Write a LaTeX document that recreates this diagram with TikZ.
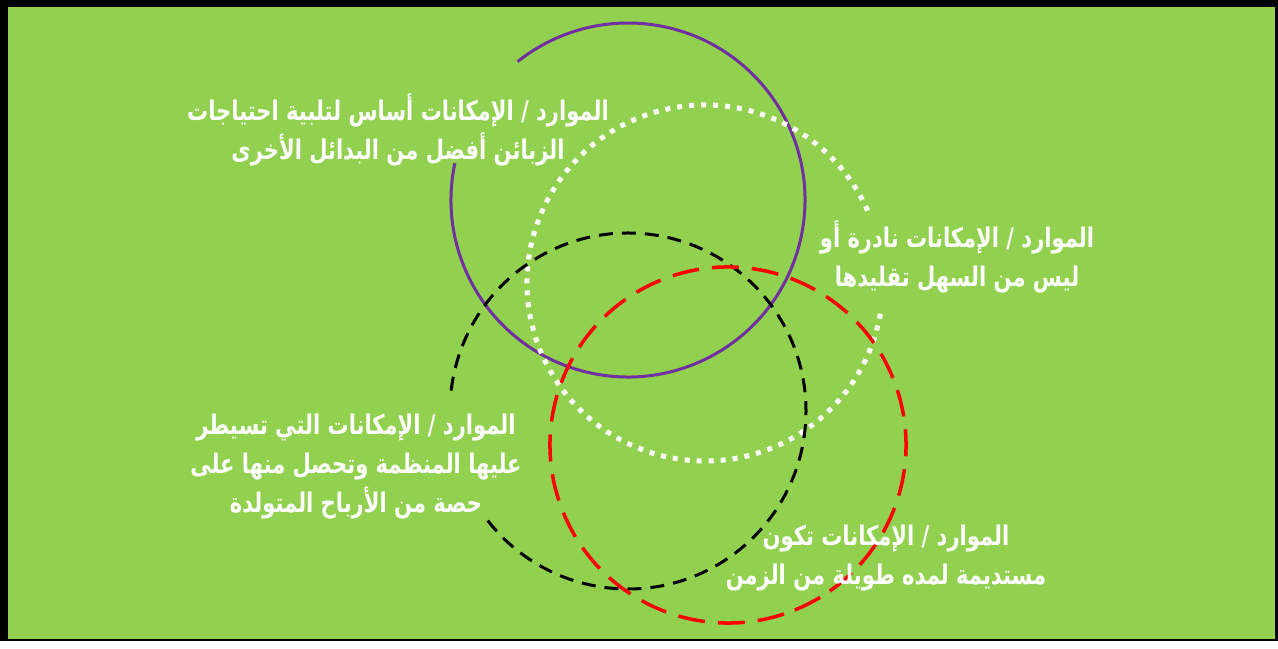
\documentclass[tikz,border=0pt]{standalone}
\usepackage{fontspec}
\usetikzlibrary{positioning}
\TeXXeTstate=1
\newfontfamily\arabicfont[Script=Arabic, FakeStretch=0.78]{DejaVu Sans}
\definecolor{bggreen}{HTML}{92D050}
\definecolor{ringpurple}{HTML}{7030A0}
\definecolor{ringred}{HTML}{FF0000}

\begin{document}
\begin{tikzpicture}[
    x=1pt, y=1pt,
    purplering/.style={draw=ringpurple, line width=3pt},
    whitering/.style={draw=white, line width=5pt, dash pattern=on 5pt off 7pt},
    blackring/.style={draw=black, line width=3pt, dash pattern=on 14pt off 9pt},
    redring/.style={draw=ringred, line width=3.5pt, dash pattern=on 27pt off 13pt},
    note/.style={text=white, align=center, inner sep=0pt, font=\arabicfont\bfseries\fontsize{27}{39}\selectfont},
]
    % Frame
    \fill[black] (0,0) rectangle (1278,641);
    \fill[bggreen] (8,2) rectangle (1275,634);

    % Ring centres
    \coordinate (cpurple) at (628,441);
    \coordinate (cwhite) at (705,358);
    \coordinate (cblack) at (628,230);
    \coordinate (cred) at (728,196);

    % Rings, open where the texts sit
    \draw[purplering] (cpurple) ++(168:177) arc[start angle=168, end angle=488.6, radius=177];
    \draw[whitering] (cwhite) ++(24:178) arc[start angle=24, end angle=352, radius=178];
    \draw[blackring] (cblack) ++(218:178) arc[start angle=218, end angle=536, radius=178];
    \draw[redring] (cred) ++(-68:178) arc[start angle=-68, end angle=335, radius=178];

    % Texts
    \node[note] (needs) at (398,511) {\beginR الموارد / الإمكانات أساس لتلبية احتياجات\endR\\\beginR الزبائن أفضل من البدائل الأخرى\endR};
    \node[note] (rare) at (957,384) {\beginR الموارد / الإمكانات نادرة أو\endR\\\beginR ليس من السهل تقليدها\endR};
    \node[note] (control) at (356,174) {\beginR الموارد / الإمكانات التي تسيطر\endR\\\beginR عليها المنظمة وتحصل منها على\endR\\\beginR حصة من الأرباح المتولدة\endR};
    \node[note] (lasting) at (886,83) {\beginR الموارد / الإمكانات تكون\endR\\\beginR مستديمة لمده طويلة من الزمن\endR};
\end{tikzpicture}
\end{document}
